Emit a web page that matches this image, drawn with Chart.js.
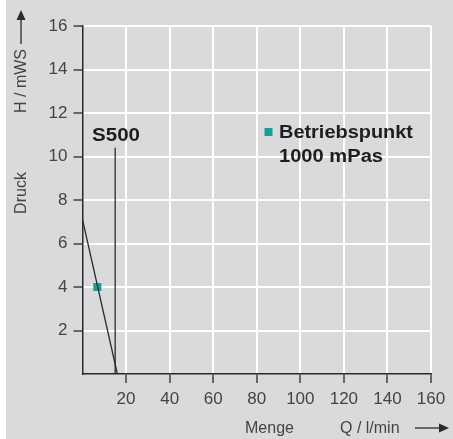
<!DOCTYPE html>
<html>
<head>
<meta charset="utf-8">
<script src="https://cdn.jsdelivr.net/npm/chart.js@4/dist/chart.umd.min.js"></script>
<style>
  html, body { margin: 0; padding: 0; background: #fff; }
  canvas { display: block; }
</style>
</head>
<body>
<canvas id="pumpChart" width="453" height="439"></canvas>
<script>
// Kennlinie S500, Betriebspunkt bei 1000 mPas
const xTicks = [20, 40, 60, 80, 100, 120, 140, 160];
const yTicks = [2, 4, 6, 8, 10, 12, 14, 16];
const curveQ = [0, 16];
const curveH = [7.1, 0];
const s500Q = [15, 15];
const s500H = [0, 10.4];
const pointQ = [6.8];
const pointH = [4];

const teal = '#17a095';
const ink = '#2a2a2a';
const textGrey = '#444';

function pairs(xs, ys) {
    return xs.map((x, i) => ({ x: x, y: ys[i] }));
}

// Text etwas breiter ziehen, wie die Vorlage (Helvetica)
function wideText(ctx, text, x, y, width) {
    const w = ctx.measureText(text).width;
    ctx.save();
    ctx.translate(x, y);
    ctx.scale(width / w, 1);
    ctx.fillText(text, 0, 0);
    ctx.restore();
}

const decorations = {
    id: 'decorations',
    beforeDraw(chart) {
        const ctx = chart.ctx;
        ctx.save();
        ctx.fillStyle = '#d9dadc';
        ctx.fillRect(6, 0, chart.width - 6, chart.height);
        ctx.restore();
    },
    afterDraw(chart) {
        const ctx = chart.ctx;
        ctx.save();

        // Beschriftung im Diagramm
        ctx.fillStyle = '#1e1e1e';
        ctx.font = 'bold 18px "Liberation Sans", Arial, sans-serif';
        ctx.textBaseline = 'alphabetic';
        ctx.textAlign = 'left';
        wideText(ctx, 'S500', 92, 140.5, 48);
        wideText(ctx, 'Betriebspunkt', 279, 137.5, 134);
        wideText(ctx, '1000 mPas', 279, 161.5, 104);
        ctx.fillStyle = teal;
        ctx.fillRect(264.5, 128, 8, 8);

        // Achsentitel
        ctx.fillStyle = textGrey;
        ctx.strokeStyle = ink;
        ctx.lineWidth = 1.3;
        ctx.font = '16px "Liberation Sans", Arial, sans-serif';

        ctx.save();
        ctx.translate(26, 0);
        ctx.rotate(-Math.PI / 2);
        ctx.textAlign = 'right';
        ctx.fillText('H / mWS', -49, 0);
        ctx.textAlign = 'center';
        ctx.fillText('Druck', -193, 0);
        ctx.restore();

        ctx.beginPath();
        ctx.moveTo(21, 44);
        ctx.lineTo(21, 18);
        ctx.stroke();
        ctx.fillStyle = ink;
        ctx.beginPath();
        ctx.moveTo(21, 10);
        ctx.lineTo(16.5, 20);
        ctx.lineTo(25.5, 20);
        ctx.closePath();
        ctx.fill();

        ctx.fillStyle = textGrey;
        ctx.textAlign = 'left';
        ctx.fillText('Menge', 245, 433);
        ctx.fillText('Q / l/min', 340, 433);

        ctx.beginPath();
        ctx.moveTo(415, 428);
        ctx.lineTo(440, 428);
        ctx.stroke();
        ctx.fillStyle = ink;
        ctx.beginPath();
        ctx.moveTo(449, 428);
        ctx.lineTo(439, 423.5);
        ctx.lineTo(439, 432.5);
        ctx.closePath();
        ctx.fill();

        ctx.restore();
    }
};

const tickFont = { family: '"Liberation Sans", Arial, sans-serif', size: 17 };

new Chart(document.getElementById('pumpChart'), {
    type: 'scatter',
    data: {
        datasets: [
            {
                label: 'Kennlinie',
                data: pairs(curveQ, curveH),
                showLine: true,
                borderColor: ink,
                borderWidth: 1.3,
                pointRadius: 0
            },
            {
                label: 'S500',
                data: pairs(s500Q, s500H),
                showLine: true,
                borderColor: ink,
                borderWidth: 1.3,
                pointRadius: 0
            },
            {
                label: 'Betriebspunkt',
                data: pairs(pointQ, pointH),
                pointStyle: 'rect',
                pointRadius: 5.7,
                pointBorderWidth: 0,
                backgroundColor: teal,
                borderColor: teal
            }
        ]
    },
    options: {
        responsive: false,
        animation: false,
        layout: { padding: { left: 0, top: 26, right: 22, bottom: 0 } },
        plugins: {
            legend: { display: false },
            tooltip: { enabled: false }
        },
        scales: {
            x: {
                type: 'linear',
                min: 0,
                max: 160,
                afterBuildTicks: scale => { scale.ticks = xTicks.map(v => ({ value: v })); },
                afterFit: scale => { scale.height = 65; },
                grid: { color: '#ffffff', lineWidth: 2, tickColor: ink, tickLength: 9, tickWidth: 1.3 },
                border: { color: ink, width: 1.5 },
                ticks: { color: textGrey, font: tickFont, padding: 6, maxRotation: 0 }
            },
            y: {
                type: 'linear',
                min: 0,
                max: 16,
                afterBuildTicks: scale => { scale.ticks = yTicks.map(v => ({ value: v })); },
                afterFit: scale => { scale.width = 82.5; },
                grid: { color: '#ffffff', lineWidth: 2, tickColor: ink, tickLength: 9, tickWidth: 1.3 },
                border: { color: ink, width: 1.5 },
                ticks: { color: textGrey, font: tickFont, padding: 6 }
            }
        }
    },
    plugins: [decorations]
});
</script>
</body>
</html>
